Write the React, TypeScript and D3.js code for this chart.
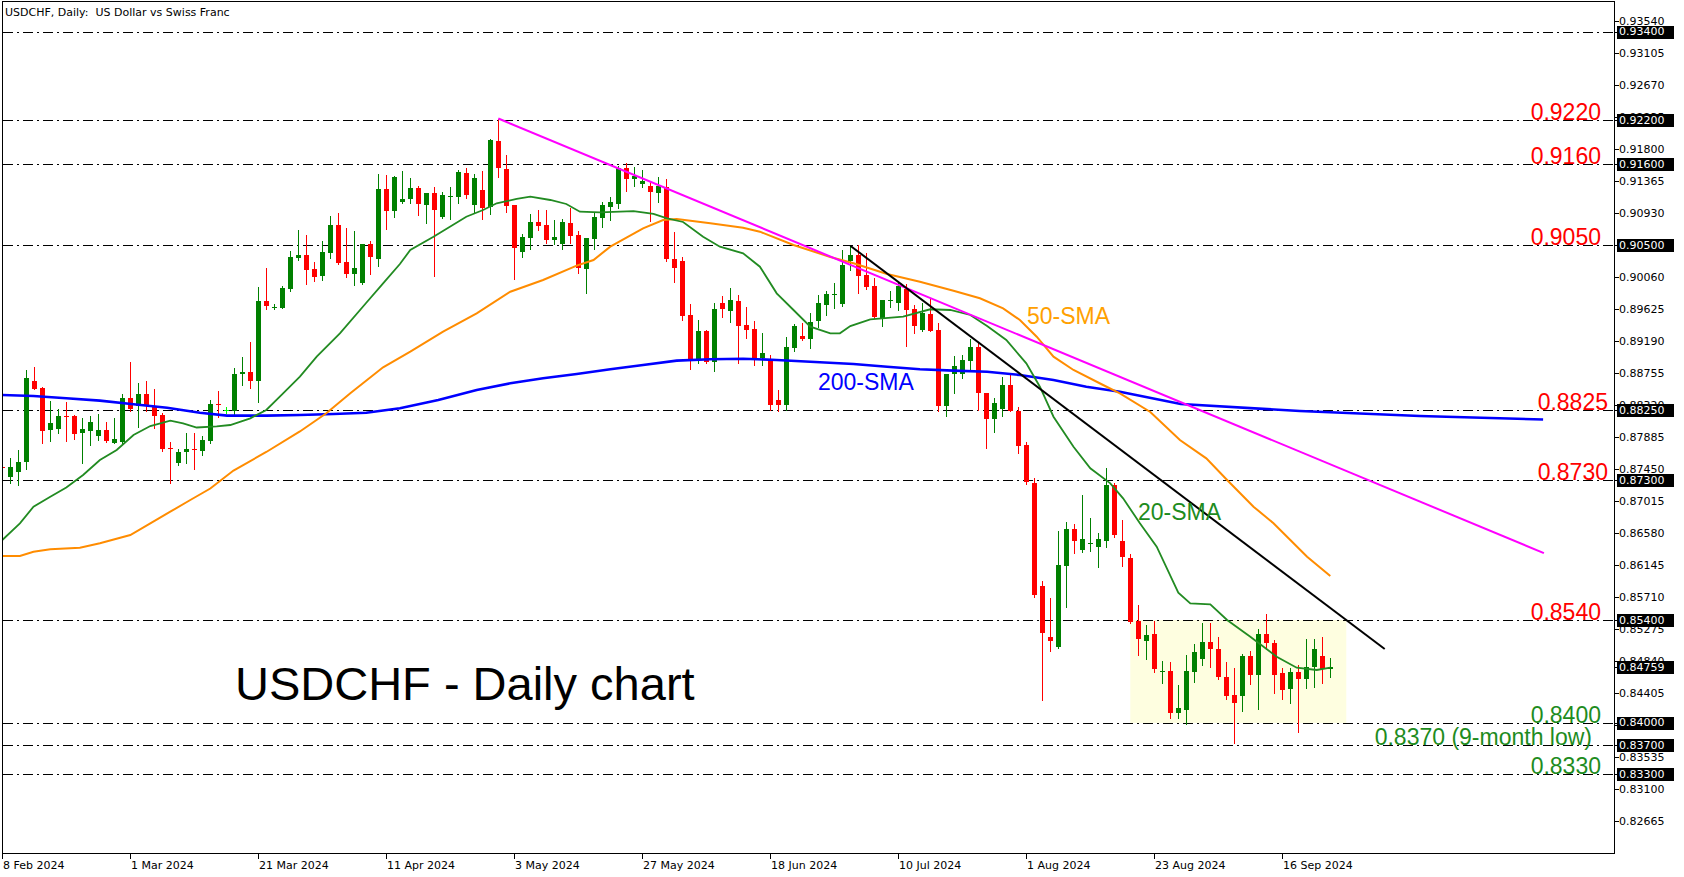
import React from "react";
import * as d3 from "d3";

const W = 1684;
const H = 877;
const LEFT = 2.5;
const TOP = 1.5;
const RIGHT = 1614.5;
const BOTTOM = 853.5;

// ---- candles (daily OHLC, bar 0 = 8 Feb 2024) ----
const opens = [
  0.87478, 0.87335, 0.87403, 0.87539, 0.8865, 0.88555, 0.87975, 0.88002, 0.88174, 0.88174,
  0.87934, 0.87975, 0.87907, 0.87984, 0.87811, 0.87825, 0.88419, 0.88301, 0.8847, 0.88301,
  0.88188, 0.87733, 0.87531, 0.87675, 0.87719, 0.87703, 0.87834, 0.88338, 0.88256, 0.88238,
  0.88742, 0.88773, 0.88655, 0.89738, 0.89653, 0.89647, 0.89906, 0.90327, 0.90364, 0.90174,
  0.90078, 0.90395, 0.90772, 0.90269, 0.9011, 0.89974, 0.9051, 0.90314, 0.91262, 0.90967,
  0.91075, 0.9113, 0.91275, 0.91048, 0.91207, 0.90881, 0.91157, 0.91157, 0.91479, 0.91048,
  0.91252, 0.91017, 0.9191, 0.9153, 0.91044, 0.90405, 0.90599, 0.90813, 0.90772, 0.90572,
  0.90514, 0.90799, 0.90636, 0.90174, 0.90582, 0.90871, 0.91017, 0.91058, 0.91543, 0.91398,
  0.91334, 0.91298, 0.91207, 0.91285, 0.9031, 0.90282, 0.89548, 0.88945, 0.89335, 0.88905,
  0.89711, 0.89607, 0.89738, 0.89412, 0.89358, 0.88963, 0.88945, 0.88392, 0.88324, 0.89095,
  0.89262, 0.89222, 0.89457, 0.89684, 0.89827, 0.89698, 0.90286, 0.90364, 0.90092, 0.89947,
  0.89489, 0.89748, 0.89715, 0.89902, 0.8963, 0.89335, 0.89562, 0.89344, 0.88315, 0.88742,
  0.88742, 0.88927, 0.89117, 0.88483, 0.88134, 0.8827, 0.88596, 0.88242, 0.87776, 0.87259,
  0.85862, 0.85173, 0.85037, 0.86139, 0.86638, 0.86352, 0.86447, 0.86389, 0.86479, 0.87236,
  0.86474, 0.86239, 0.85386, 0.85119, 0.8521, 0.84702, 0.84706, 0.84139, 0.84176, 0.84697,
  0.8487, 0.85105, 0.85006, 0.84621, 0.8438, 0.84366, 0.8491, 0.84652, 0.8521, 0.85083,
  0.84675, 0.84458, 0.84689, 0.84594, 0.84757, 0.8491, 0.8473,
];
const highs = [
  0.8752, 0.87599, 0.87712, 0.888, 0.88841, 0.88565, 0.88378, 0.8827, 0.88361, 0.88188,
  0.88151, 0.88174, 0.88198, 0.88093, 0.88151, 0.8847, 0.88909, 0.88623, 0.8865, 0.88542,
  0.88211, 0.87817, 0.87726, 0.87943, 0.87943, 0.87898, 0.88392, 0.88514, 0.88301, 0.88823,
  0.88977, 0.89181, 0.89933, 0.90187, 0.89694, 0.89942, 0.90418, 0.90704, 0.90636, 0.90269,
  0.90554, 0.90894, 0.90935, 0.90731, 0.9069, 0.9051, 0.90554, 0.91466, 0.91452, 0.91434,
  0.91506, 0.91411, 0.91302, 0.9121, 0.91285, 0.91221, 0.91285, 0.9152, 0.91551, 0.91466,
  0.91506, 0.91942, 0.92218, 0.91724, 0.9105, 0.90646, 0.90926, 0.90976, 0.90976, 0.9084,
  0.90854, 0.91007, 0.90686, 0.906, 0.90931, 0.91085, 0.91149, 0.91574, 0.91615, 0.91561,
  0.9152, 0.91357, 0.91425, 0.91398, 0.90677, 0.90337, 0.89698, 0.8948, 0.8934, 0.89715,
  0.89811, 0.89911, 0.8982, 0.89657, 0.89466, 0.89303, 0.89004, 0.88528, 0.89249, 0.8943,
  0.89439, 0.89571, 0.8982, 0.89879, 0.89979, 0.90432, 0.90486, 0.905, 0.90387, 0.90047,
  0.89752, 0.89874, 0.89979, 0.89966, 0.89684, 0.89715, 0.89766, 0.89435, 0.88746, 0.8899,
  0.89004, 0.89222, 0.89163, 0.88491, 0.88415, 0.88701, 0.88742, 0.88293, 0.87821, 0.87327,
  0.8593, 0.85703, 0.8661, 0.86733, 0.8671, 0.871, 0.86791, 0.86583, 0.87463, 0.87259,
  0.8676, 0.86298, 0.85604, 0.85332, 0.85391, 0.84842, 0.84833, 0.84516, 0.84924, 0.85074,
  0.85363, 0.85363, 0.85173, 0.84833, 0.84743, 0.84934, 0.84978, 0.85274, 0.85482, 0.85128,
  0.84743, 0.84743, 0.84784, 0.85138, 0.85138, 0.85165, 0.84879,
];
const lows = [
  0.8742, 0.87259, 0.8724, 0.8745, 0.8854, 0.87811, 0.87839, 0.87947, 0.87839, 0.87866,
  0.87531, 0.87784, 0.87852, 0.87825, 0.87808, 0.87808, 0.88238, 0.88029, 0.88238, 0.88015,
  0.87703, 0.87267, 0.87504, 0.87531, 0.8745, 0.8764, 0.87803, 0.88165, 0.88211, 0.88179,
  0.88592, 0.88555, 0.88365, 0.8963, 0.89626, 0.8964, 0.89879, 0.90296, 0.89974, 0.90015,
  0.90024, 0.90323, 0.90242, 0.90069, 0.8996, 0.8997, 0.9011, 0.90219, 0.90722, 0.90885,
  0.9107, 0.91067, 0.90908, 0.90795, 0.90083, 0.90871, 0.9085, 0.91075, 0.91143, 0.90931,
  0.90858, 0.90922, 0.91429, 0.90953, 0.90038, 0.90341, 0.90442, 0.90704, 0.90531, 0.90514,
  0.90446, 0.90523, 0.90119, 0.89851, 0.9045, 0.90745, 0.9084, 0.91007, 0.91239, 0.91302,
  0.91293, 0.90826, 0.91085, 0.90282, 0.90001, 0.8948, 0.88818, 0.88899, 0.88899, 0.88791,
  0.89525, 0.89453, 0.88899, 0.89239, 0.88868, 0.88868, 0.88256, 0.88242, 0.88256, 0.89063,
  0.89208, 0.89095, 0.89389, 0.89548, 0.89639, 0.8967, 0.9016, 0.89843, 0.89902, 0.89503,
  0.89398, 0.89653, 0.89616, 0.89126, 0.89299, 0.8933, 0.8933, 0.88242, 0.88174, 0.88491,
  0.88687, 0.888, 0.88256, 0.87743, 0.87961, 0.88179, 0.88242, 0.87675, 0.87245, 0.85717,
  0.84312, 0.84983, 0.85015, 0.85581, 0.86307, 0.86321, 0.86338, 0.86125, 0.86397, 0.86529,
  0.86134, 0.85363, 0.84924, 0.8487, 0.84689, 0.84539, 0.84071, 0.84071, 0.83982, 0.84561,
  0.84788, 0.84765, 0.84594, 0.84322, 0.83723, 0.84167, 0.8453, 0.8419, 0.85006, 0.84411,
  0.84322, 0.84275, 0.83881, 0.84471, 0.84493, 0.84547, 0.84629,
];
const closes = [
  0.87465, 0.87477, 0.87545, 0.88687, 0.88546, 0.87975, 0.88075, 0.88174, 0.88168, 0.87934,
  0.87994, 0.88093, 0.87984, 0.87839, 0.87862, 0.88419, 0.8827, 0.8847, 0.88301, 0.88179,
  0.87726, 0.87724, 0.87681, 0.87722, 0.87712, 0.87848, 0.88334, 0.88331, 0.88256, 0.88746,
  0.88773, 0.88655, 0.89738, 0.89675, 0.89661, 0.89919, 0.90337, 0.90364, 0.90164, 0.90069,
  0.90405, 0.90772, 0.90255, 0.9011, 0.90187, 0.9051, 0.90333, 0.91262, 0.90967, 0.91425,
  0.91122, 0.91275, 0.91051, 0.91207, 0.9098, 0.9118, 0.91162, 0.91493, 0.9118, 0.91411,
  0.91003, 0.91928, 0.91538, 0.9103, 0.90463, 0.90609, 0.90813, 0.90763, 0.90572, 0.90609,
  0.90813, 0.90627, 0.90191, 0.90595, 0.90881, 0.91044, 0.91085, 0.91543, 0.91398, 0.91438,
  0.9137, 0.91221, 0.91298, 0.9031, 0.90191, 0.89534, 0.88945, 0.89335, 0.88909, 0.89626,
  0.89626, 0.89752, 0.89403, 0.89348, 0.88954, 0.89031, 0.88324, 0.88324, 0.89113, 0.89398,
  0.89226, 0.89457, 0.89707, 0.89834, 0.89834, 0.90228, 0.90364, 0.90083, 0.89933, 0.89525,
  0.89752, 0.89752, 0.89947, 0.89616, 0.89403, 0.89571, 0.89335, 0.88315, 0.88746, 0.88854,
  0.88936, 0.89117, 0.88497, 0.88134, 0.88347, 0.88596, 0.88242, 0.87766, 0.87267, 0.8573,
  0.85227, 0.85119, 0.86148, 0.86638, 0.86479, 0.86502, 0.86454, 0.86502, 0.87236, 0.86556,
  0.86253, 0.85363, 0.85142, 0.85196, 0.84734, 0.84711, 0.84139, 0.84207, 0.84706, 0.84965,
  0.85105, 0.85006, 0.84621, 0.84366, 0.84275, 0.8491, 0.84656, 0.8521, 0.85083, 0.84652,
  0.84448, 0.84689, 0.84594, 0.84757, 0.85002, 0.8473, 0.84759,
];

// ---- moving averages: [bar, price] ----
const sma20: [number, number][] = [
  [0, 0.86488], [2.2, 0.86715], [3.9, 0.86941], [6, 0.87077], [8, 0.87202], [10.1, 0.87372],
  [12.2, 0.87576], [14.3, 0.87712], [16.4, 0.87916], [18.5, 0.88038], [21, 0.88111], [22.6, 0.88075],
  [24.3, 0.88018], [26.8, 0.88032], [28.5, 0.88052], [31, 0.88143], [33, 0.88256], [35.1, 0.88483],
  [37.2, 0.88709], [39.3, 0.88981], [42.2, 0.89299], [45.5, 0.89715], [47.6, 0.89979], [49.7, 0.90242],
  [51, 0.90432], [53.9, 0.90613], [58, 0.90885], [60.1, 0.90976], [61.8, 0.91067], [64.3, 0.91126],
  [66, 0.91157], [68.5, 0.91112], [70.5, 0.91058], [72.2, 0.90953], [74.7, 0.90945], [78.9, 0.90962],
  [81.4, 0.90922], [83.1, 0.90863], [85.1, 0.90813], [87.6, 0.90613], [89.7, 0.90477], [92.6, 0.90387],
  [94.7, 0.90205], [96.8, 0.89843], [98.9, 0.89616], [101, 0.89389], [103.5, 0.89299], [104.7, 0.89299],
  [106, 0.89398], [108.5, 0.89489], [112.6, 0.89525], [116, 0.89626], [118.5, 0.89616], [121, 0.89548],
  [123.1, 0.89398], [125.5, 0.89208], [128, 0.88891], [129.7, 0.88573], [131.4, 0.88165], [133.9, 0.87757],
  [136, 0.87463], [138.5, 0.87259], [140.1, 0.87055], [142.2, 0.86715], [144.3, 0.86397], [147, 0.85771],
  [148.5, 0.85627], [151, 0.85614], [153.1, 0.854], [156, 0.85173], [159.3, 0.84901], [161.8, 0.84751],
  [164.3, 0.8472], [166, 0.84751],
];
const sma50: [number, number][] = [
  [0, 0.8627], [2.2, 0.8627], [3.9, 0.86329], [6, 0.86362], [9.7, 0.86383], [12.2, 0.86443],
  [16, 0.86556], [18.5, 0.86715], [21, 0.86873], [23.5, 0.87032], [26, 0.87188], [28.9, 0.87433],
  [33, 0.87685], [37.2, 0.87964], [40.5, 0.88211], [43.5, 0.88483], [47.6, 0.88837], [51, 0.89049],
  [55.1, 0.89321], [59.3, 0.89571], [63.5, 0.89865], [67.6, 0.90024], [71.8, 0.90219], [73.9, 0.90296],
  [76, 0.90477], [80.1, 0.90727], [82.6, 0.9084], [84.3, 0.90854], [88.5, 0.90795], [92.6, 0.90735],
  [94.7, 0.90681], [98.9, 0.905], [103.5, 0.90337], [106.4, 0.90251], [110.6, 0.90106], [114.7, 0.90001],
  [118.9, 0.89879], [122.2, 0.89775], [125.1, 0.89639], [127.2, 0.8948], [129.3, 0.89253], [131.4, 0.88981],
  [133.9, 0.888], [137.6, 0.88596], [139.7, 0.88483], [143.5, 0.88229], [147.2, 0.87848], [150.5, 0.87599],
  [153.1, 0.87304], [156.4, 0.86941], [158.9, 0.86715], [161, 0.86488], [163.1, 0.86261], [166, 0.85998],
];
const sma200: [number, number][] = [
  [0, 0.8846], [3.9, 0.88446], [8, 0.88415], [12.2, 0.88383], [16.4, 0.88334], [20.6, 0.88287],
  [24.7, 0.88219], [28.1, 0.88179], [33, 0.88179], [37.2, 0.88188], [41.4, 0.88202], [45.5, 0.88219],
  [49.7, 0.88279], [54.5, 0.88392], [59.3, 0.88528], [63.5, 0.88619], [67.6, 0.88687], [71.8, 0.88746],
  [76, 0.8881], [80.1, 0.88868], [84.3, 0.88927], [88.5, 0.88946], [92.6, 0.88954], [96.8, 0.88936],
  [101, 0.88913], [106.4, 0.88882], [110.6, 0.88845], [114.7, 0.8881], [118.9, 0.88791], [123.1, 0.88777],
  [127.2, 0.88732], [131.4, 0.88664], [135.5, 0.88573], [139.7, 0.88505], [147.3, 0.88338], [162.2, 0.88242],
  [177.2, 0.88174], [192.6, 0.88127],
];

// ---- drawn objects ----
const magentaTrend: [number, number][] = [[62, 0.9222], [192.7, 0.8631]];
const blackTrend: [number, number][] = [[106, 0.9049], [172.8, 0.85006]];
const levelPrices = [0.934, 0.922, 0.916, 0.905, 0.8825, 0.873, 0.854, 0.84, 0.837, 0.833];
const rangeBox = { fromBar: 141, toBar: 168, top: 0.854, bottom: 0.84 };

const levelLabels = [
  { text: "0.9220", price: 0.922, color: "#ff0000", right: 1601 },
  { text: "0.9160", price: 0.916, color: "#ff0000", right: 1601 },
  { text: "0.9050", price: 0.905, color: "#ff0000", right: 1601 },
  { text: "0.8825", price: 0.8825, color: "#ff0000", right: 1608 },
  { text: "0.8730", price: 0.873, color: "#ff0000", right: 1608 },
  { text: "0.8540", price: 0.854, color: "#ff0000", right: 1601 },
  { text: "0.8400", price: 0.84, color: "#1e8c1e", right: 1601 },
  { text: "0.8370 (9-month low)", price: 0.837, color: "#1e8c1e", right: 1592 },
  { text: "0.8330", price: 0.833, color: "#1e8c1e", right: 1601 },
];

const priceTicks = [
  0.9354, 0.93105, 0.9267, 0.92235, 0.918, 0.91365, 0.9093, 0.90495, 0.9006, 0.89625, 0.8919,
  0.88755, 0.8832, 0.87885, 0.8745, 0.87015, 0.8658, 0.86145, 0.8571, 0.85275, 0.8484, 0.84405,
  0.8397, 0.83535, 0.831, 0.82665,
];
const boxedPrices = [0.934, 0.922, 0.916, 0.905, 0.8825, 0.873, 0.854, 0.84759, 0.84, 0.837, 0.833];

const dateLabels = [
  "8 Feb 2024", "1 Mar 2024", "21 Mar 2024", "11 Apr 2024", "3 May 2024", "27 May 2024",
  "18 Jun 2024", "10 Jul 2024", "1 Aug 2024", "23 Aug 2024", "16 Sep 2024",
];
const dateBars = [0, 16, 32, 48, 64, 80, 96, 112, 128, 144, 160];

const x = d3.scaleLinear().domain([0, 200]).range([2.3, 1602.3]);
const y = d3.scaleLinear().domain([0.93832, 0.82952]).range([0, 800]);

const AXIS_FONT = "DejaVu Sans, Verdana, sans-serif";
const LABEL_FONT = "Liberation Sans, Arial, sans-serif";

const lineGen = d3
  .line<[number, number]>()
  .x((d) => x(d[0]))
  .y((d) => y(d[1]));

export default function App() {
  const crisp = (v: number) => Math.round(v) + 0.5;
  const candles = opens.map((o, i) => {
    const c = closes[i];
    const col = Math.floor(x(i));
    const color = c > o ? "#008000" : c < o ? "#ff0000" : "#00ff00";
    const yo = y(o);
    const yc = y(c);
    const top = Math.round(Math.min(yo, yc));
    const h = Math.max(1, Math.round(Math.abs(yo - yc)));
    return (
      <g key={i}>
        <line
          x1={col + 0.5}
          x2={col + 0.5}
          y1={Math.round(y(highs[i]))}
          y2={Math.round(y(lows[i])) + 1}
          stroke={color}
          strokeWidth={1}
        />
        <rect x={col - 2} y={top} width={5} height={h} fill={color} />
      </g>
    );
  });

  return (
    <svg
      width={W}
      height={H}
      style={{ position: "absolute", left: 0, top: 0, background: "#ffffff" }}
    >
      <defs>
        <clipPath id="plot">
          <rect x={LEFT} y={TOP} width={RIGHT - LEFT} height={BOTTOM - TOP} />
        </clipPath>
      </defs>
      <rect x={0} y={0} width={W} height={H} fill="#ffffff" />
      <g clipPath="url(#plot)">
        <rect
          x={x(rangeBox.fromBar)}
          y={y(rangeBox.top)}
          width={x(rangeBox.toBar) - x(rangeBox.fromBar)}
          height={y(rangeBox.bottom) - y(rangeBox.top)}
          fill="#fefee0"
        />
        {levelPrices.map((p) => (
          <line
            key={p}
            x1={LEFT}
            x2={RIGHT}
            y1={crisp(y(p))}
            y2={crisp(y(p))}
            stroke="#000000"
            strokeWidth={1}
            strokeDasharray="10,4,2,4"
            shapeRendering="crispEdges"
          />
        ))}
        <g shapeRendering="crispEdges">{candles}</g>
        <path d={lineGen(sma200) || ""} fill="none" stroke="#0000ff" strokeWidth={2.6} />
        <path d={lineGen(sma50) || ""} fill="none" stroke="#ff8c00" strokeWidth={2} />
        <path d={lineGen(sma20) || ""} fill="none" stroke="#228b22" strokeWidth={1.8} />
        <path d={lineGen(magentaTrend) || ""} fill="none" stroke="#ff00ff" strokeWidth={2} />
        <path d={lineGen(blackTrend) || ""} fill="none" stroke="#000000" strokeWidth={2} />

        <text x={235} y={700} fontFamily={LABEL_FONT} fontSize={47} fill="#000000">
          USDCHF - Daily chart
        </text>
        <text x={1027} y={324} fontFamily={LABEL_FONT} fontSize={23} fill="#ffa000">
          50-SMA
        </text>
        <text x={818} y={390} fontFamily={LABEL_FONT} fontSize={23} fill="#0000ff">
          200-SMA
        </text>
        <text x={1138} y={520} fontFamily={LABEL_FONT} fontSize={23} fill="#1e8c1e">
          20-SMA
        </text>
        {levelLabels.map((l) => (
          <text
            key={l.text}
            x={l.right}
            y={y(l.price)}
            textAnchor="end"
            fontFamily={LABEL_FONT}
            fontSize={23}
            fill={l.color}
          >
            {l.text}
          </text>
        ))}
      </g>

      {/* frame */}
      <rect
        x={LEFT}
        y={TOP}
        width={RIGHT - LEFT}
        height={BOTTOM - TOP}
        fill="none"
        stroke="#000000"
        strokeWidth={1}
        shapeRendering="crispEdges"
      />

      {/* title */}
      <text x={5} y={16} fontFamily={AXIS_FONT} fontSize={11} fill="#000000" style={{ whiteSpace: "pre" }}>
        {"USDCHF, Daily:\u00a0 US Dollar vs Swiss Franc"}
      </text>

      {/* right price axis */}
      {priceTicks.map((p) => (
        <g key={p}>
          <line
            x1={RIGHT}
            x2={RIGHT + 4}
            y1={crisp(y(p))}
            y2={crisp(y(p))}
            stroke="#000000"
            shapeRendering="crispEdges"
          />
          <text
            x={1619}
            y={y(p)}
            dominantBaseline="central"
            fontFamily={AXIS_FONT}
            fontSize={11}
            fill="#000000"
          >
            {p.toFixed(5)}
          </text>
        </g>
      ))}
      {boxedPrices.map((p) => (
        <g key={"b" + p}>
          <line
            x1={RIGHT}
            x2={RIGHT + 4}
            y1={crisp(y(p))}
            y2={crisp(y(p))}
            stroke="#000000"
            shapeRendering="crispEdges"
          />
          <rect x={1617} y={Math.round(y(p)) - 6} width={57} height={13} fill="#000000" />
          <text
            x={1619}
            y={y(p)}
            dominantBaseline="central"
            fontFamily={AXIS_FONT}
            fontSize={11}
            fill="#ffffff"
          >
            {p.toFixed(5)}
          </text>
        </g>
      ))}

      {/* bottom date axis */}
      {dateBars.map((b, i) => (
        <g key={b}>
          <line
            x1={Math.floor(x(b)) + 0.5}
            x2={Math.floor(x(b)) + 0.5}
            y1={BOTTOM}
            y2={BOTTOM + 5}
            stroke="#000000"
            shapeRendering="crispEdges"
          />
          <text
            x={Math.floor(x(b)) + 1}
            y={869}
            fontFamily={AXIS_FONT}
            fontSize={11}
            fill="#000000"
          >
            {dateLabels[i]}
          </text>
        </g>
      ))}
    </svg>
  );
}
